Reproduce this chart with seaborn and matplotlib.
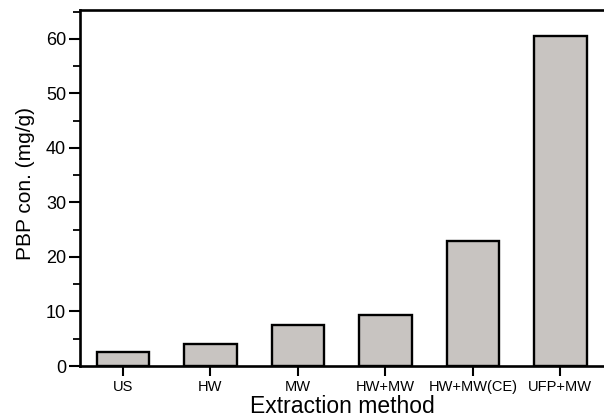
import matplotlib
matplotlib.use("Agg")
import matplotlib.pyplot as plt
import seaborn as sns
import pandas as pd
from matplotlib.ticker import MultipleLocator

methods = ["US", "HW", "MW", "HW+MW", "HW+MW(CE)", "UFP+MW"]
pbp = [2.6, 4.0, 7.5, 9.4, 23.0, 60.5]

df = pd.DataFrame({"method": methods, "pbp": pbp})

sns.set_style("ticks")
plt.rcParams["font.family"] = ["Liberation Sans", "DejaVu Sans"]

fig = plt.figure(figsize=(6.04, 4.19), dpi=100)
ax_w = 1 - 80 / 604
ax = fig.add_axes([80 / 604, 53 / 419, ax_w, (366 - 10.5) / 419])

sns.barplot(data=df, x="method", y="pbp", order=methods, color="#c8c4c1",
            edgecolor="black", linewidth=1.7, width=0.6, saturation=1, ax=ax)

ax.set_xlim(-0.49, 5.5)
ax.set_ylim(0, 65.2)
ax.yaxis.set_major_locator(MultipleLocator(10))
ax.yaxis.set_minor_locator(MultipleLocator(5))

for s in ["left", "bottom", "top"]:
    ax.spines[s].set_linewidth(1.9)
    ax.spines[s].set_color("black")
ax.spines["right"].set_visible(False)

ax.tick_params(axis="y", which="major", direction="out", length=8, width=1.5,
               labelsize=13, pad=2, color="black", labelcolor="black")
ax.tick_params(axis="y", which="minor", direction="out", length=5, width=1.3, color="black")
ax.tick_params(axis="x", which="major", direction="out", length=7, width=1.5,
               labelsize=10.5, pad=3, color="black", labelcolor="black")

ax.set_xlabel("Extraction method", fontsize=16.5, color="black")
ax.xaxis.set_label_coords(0.5, -(395 - 366) / 355.5)
ax.set_ylabel("PBP con. (mg/g)", fontsize=15, color="black")
ax.yaxis.set_label_coords(-(80 - 35) / 524, (366 - 183) / 355.5)

fig.savefig("out.png", dpi=100)
